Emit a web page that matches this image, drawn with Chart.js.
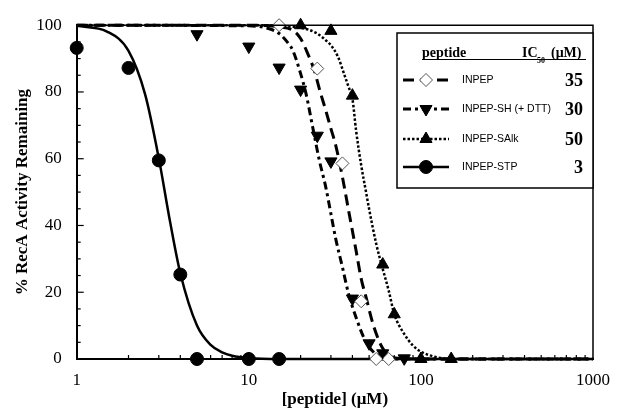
<!DOCTYPE html>
<html>
<head>
<meta charset="utf-8">
<script src="https://cdn.jsdelivr.net/npm/chart.js@4.4.1/dist/chart.umd.min.js"></script>
<style>
  html, body { margin: 0; padding: 0; background: #fff; }
  #wrap { width: 621px; height: 412px; position: relative; }
</style>
</head>
<body>
<div id="wrap"><canvas id="ic50Chart"></canvas></div>
<script>
// ── Data ─────────────────────────────────────────────────────────────────────
const xTickValues = [1, 10, 100, 1000];
const yTickValues = [0, 20, 40, 60, 80, 100];

// measured points
const inpepX = [15, 25, 35, 45, 55, 65];
const inpepY = [100, 87, 58.6, 17.3, 0, 0];
const shX = [5, 10, 15, 20, 25, 30, 40, 50, 60, 80];
const shY = [97.3, 93.6, 87.3, 80.7, 66.9, 59.2, 18.1, 4.7, 1.7, 0.2];
const salkX = [20, 30, 40, 60, 70, 100, 150];
const salkY = [100, 98.3, 78.9, 28.3, 13.4, 0, 0];
const stpX = [1, 2, 3, 4, 5, 10, 15];
const stpY = [93.2, 87.2, 59.5, 25.3, 0, 0, 0];

// fitted curves (sampled from the drawn lines)
const inpepFitX = [1, 10, 15, 18, 20, 22, 24, 26, 28, 30, 32, 35, 38, 42, 45, 48, 52, 56, 60, 66, 75, 100, 1000];
const inpepFitY = [100, 100, 99.5, 98.5, 96, 91.5, 86.5, 80, 74.5, 69, 64, 54.5, 44.5, 32.5, 24, 18.5, 11.5, 6.5, 3.2, 0.8, 0.2, 0, 0];
const shFitX = [1, 10, 13, 15, 17, 18, 20, 21.5, 23.5, 25.7, 28, 30, 32, 35, 38, 42.5, 47.5, 54, 60, 70, 1000];
const shFitY = [100, 99.8, 99, 97.5, 94.5, 92.5, 85.5, 79.5, 69.5, 59.5, 51.5, 43.5, 36, 27.5, 19.5, 11.7, 5.5, 1.7, 0.5, 0, 0];
const salkFitX = [1, 10, 20, 25, 28, 30, 33, 36, 38, 40, 42, 45, 48, 50, 55, 60, 65, 70, 80, 90, 100, 120, 150, 1000];
const salkFitY = [100, 100, 99.2, 97.5, 95.5, 94, 90.5, 85, 81.5, 78, 68.5, 58, 50, 45, 34.5, 27, 20.5, 13.5, 7.5, 4, 2.2, 0.7, 0, 0];
const stpFitX = [1, 1.5, 2, 2.5, 3, 3.5, 4, 5, 6, 7, 8, 10, 15, 1000];
const stpFitY = [99.8, 98.1, 92.3, 79.2, 60.1, 40.7, 25.7, 10, 4.2, 2, 1, 0.3, 0, 0];

const seriesNames = ['INPEP', 'INPEP-SH (+ DTT)', 'INPEP-SAlk', 'INPEP-STP'];
const ic50Values = ['35', '30', '50', '3'];

const pts = (xs, ys) => xs.map((x, i) => ({ x, y: ys[i] }));

// ── Styles per series ────────────────────────────────────────────────────────
const styles = [
    { dash: [11, 6], width: 3, marker: 'rectRot', rot: 0, radius: 6.5, fill: '#fff', stroke: '#555', bw: 1 },
    { dash: [8, 4, 3, 4], width: 3, marker: 'triangle', rot: 180, radius: 7, fill: '#000', stroke: '#000', bw: 1 },
    { dash: [2.5, 2], width: 2.5, marker: 'triangle', rot: 0, radius: 7, fill: '#000', stroke: '#000', bw: 1 },
    { dash: [], width: 2.5, marker: 'circle', rot: 0, radius: 6.5, fill: '#000', stroke: '#000', bw: 1 }
];

const fits = [pts(inpepFitX, inpepFitY), pts(shFitX, shFitY), pts(salkFitX, salkFitY), pts(stpFitX, stpFitY)];
const marks = [pts(inpepX, inpepY), pts(shX, shY), pts(salkX, salkY), pts(stpX, stpY)];

const datasets = [];
fits.forEach((d, i) => {
    datasets.push({
        label: seriesNames[i] + ' fit',
        data: d,
        showLine: true,
        borderColor: '#000',
        borderWidth: styles[i].width,
        borderDash: styles[i].dash,
        pointRadius: 0,
        cubicInterpolationMode: 'monotone',
        fill: false,
        order: 2
    });
});
marks.forEach((d, i) => {
    const s = styles[i];
    datasets.push({
        label: seriesNames[i],
        data: d,
        showLine: false,
        pointStyle: s.marker,
        rotation: s.rot,
        pointRadius: s.radius,
        pointBackgroundColor: s.fill,
        pointBorderColor: s.stroke,
        pointBorderWidth: s.bw,
        order: 1
    });
});

const SERIF = "'Liberation Serif', 'Times New Roman', serif";
const SANS = "'Liberation Sans', Arial, sans-serif";

// ── Inside ticks, frame and legend box ───────────────────────────────────────
const decorPlugin = {
    id: 'decor',
    afterDraw(chart) {
        const { ctx, chartArea: a, scales } = chart;
        const xs = scales.x, ys = scales.y;
        ctx.save();
        ctx.strokeStyle = '#000';
        ctx.setLineDash([]);

        // frame (top and right)
        ctx.lineWidth = 1.5;
        ctx.beginPath();
        ctx.moveTo(a.left, a.top);
        ctx.lineTo(a.right, a.top);
        ctx.lineTo(a.right, a.bottom);
        ctx.stroke();

        // y ticks every 5, inward
        ctx.lineWidth = 1.2;
        for (let v = 5; v < 100; v += 5) {
            const y = ys.getPixelForValue(v);
            const len = v % 20 === 0 ? 7 : 4;
            ctx.beginPath();
            ctx.moveTo(a.left, y);
            ctx.lineTo(a.left + len, y);
            ctx.stroke();
        }
        // x ticks, log minor, inward
        for (let dec = 1; dec < 1000; dec *= 10) {
            for (let m = 1; m <= 9; m++) {
                const v = dec * m;
                if (v === 1) continue;
                const x = xs.getPixelForValue(v);
                const len = m === 1 ? 7 : 4;
                ctx.beginPath();
                ctx.moveTo(x, a.bottom);
                ctx.lineTo(x, a.bottom - len);
                ctx.stroke();
            }
        }

        // legend box
        const L = 397, T = 33, R = 593, B = 188;
        ctx.fillStyle = '#fff';
        ctx.fillRect(L, T, R - L, B - T);
        ctx.lineWidth = 1.5;
        ctx.strokeRect(L, T, R - L, B - T);

        ctx.fillStyle = '#000';
        ctx.textBaseline = 'alphabetic';
        ctx.font = `bold 14px ${SERIF}`;
        ctx.textAlign = 'left';
        ctx.fillText('peptide', 422, 57);
        ctx.fillText('IC', 522, 57);
        ctx.font = `bold 8px ${SERIF}`;
        ctx.fillText('50', 537, 63);
        ctx.font = `bold 14px ${SERIF}`;
        ctx.fillText('(\u03bcM)', 551, 57);
        ctx.lineWidth = 1;
        ctx.beginPath();
        ctx.moveTo(422, 59.5);
        ctx.lineTo(586, 59.5);
        ctx.stroke();

        const rowY = [80, 109, 139, 167];
        rowY.forEach((y, i) => {
            const s = styles[i];
            ctx.save();
            ctx.strokeStyle = '#000';
            ctx.lineWidth = s.width;
            ctx.setLineDash(s.dash);
            ctx.beginPath();
            ctx.moveTo(403, y);
            ctx.lineTo(449, y);
            ctx.stroke();
            ctx.restore();
            ctx.save();
            ctx.fillStyle = s.fill;
            ctx.strokeStyle = s.stroke;
            ctx.lineWidth = s.bw;
            Chart.helpers.drawPoint(ctx, { pointStyle: s.marker, rotation: s.rot, radius: s.radius, borderWidth: s.bw }, 426, y);
            ctx.restore();

            ctx.fillStyle = '#000';
            ctx.font = `10.5px ${SANS}`;
            ctx.textAlign = 'left';
            ctx.textBaseline = 'middle';
            ctx.fillText(seriesNames[i], 462, y + 0.5);
            ctx.font = `bold 18px ${SERIF}`;
            ctx.textAlign = 'right';
            ctx.fillText(ic50Values[i], 583, y + 1);
        });
        ctx.restore();
    }
};

// ── Chart setup ──────────────────────────────────────────────────────────────
const ctx = document.getElementById('ic50Chart').getContext('2d');
const chart = new Chart(ctx, {
    type: 'scatter',
    data: { datasets },
    options: {
        responsive: true,
        maintainAspectRatio: false,
        animation: false,
        events: [],
        clip: false,
        layout: { padding: { left: 0, right: 19.5, top: 24.3, bottom: 0 } },
        plugins: {
            legend: { display: false },
            tooltip: { enabled: false }
        },
        scales: {
            x: {
                type: 'logarithmic',
                min: 1, max: 1000,
                afterBuildTicks: (scale) => { scale.ticks = xTickValues.map(v => ({ value: v })); },
                afterFit: (scale) => { scale.height = 53; },
                grid: { display: false, drawTicks: false },
                border: { display: true, color: '#000', width: 2 },
                ticks: {
                    color: '#000',
                    font: { family: SERIF, size: 17 },
                    padding: 11,
                    maxRotation: 0,
                    autoSkip: false,
                    callback: (v) => String(v)
                },
                title: {
                    display: true,
                    text: '[peptide] (\u03bcM)',
                    color: '#000',
                    font: { family: SERIF, size: 17, weight: 'bold' },
                    padding: { top: 0, bottom: 2 }
                }
            },
            y: {
                min: 0, max: 100,
                afterBuildTicks: (scale) => { scale.ticks = yTickValues.map(v => ({ value: v })); },
                afterFit: (scale) => { scale.width = 76.7; },
                grid: { display: false, drawTicks: false },
                border: { display: true, color: '#000', width: 2 },
                ticks: {
                    color: '#000',
                    font: { family: SERIF, size: 17 },
                    padding: 15
                },
                title: {
                    display: true,
                    text: '% RecA Activity Remaining',
                    color: '#000',
                    font: { family: SERIF, size: 17, weight: 'bold' },
                    padding: { top: 12, bottom: 0 }
                }
            }
        }
    },
    plugins: [decorPlugin]
});
</script>
</body>
</html>
